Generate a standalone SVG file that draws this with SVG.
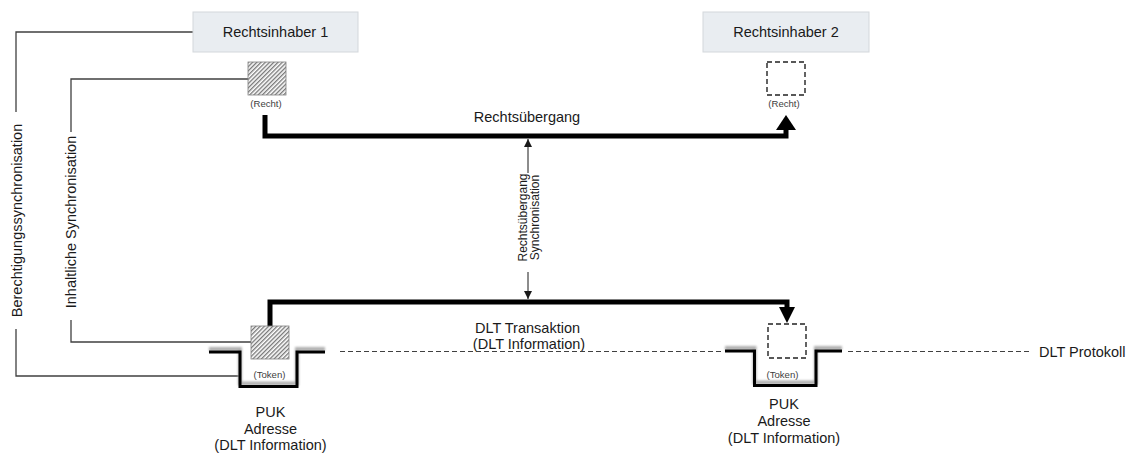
<svg xmlns="http://www.w3.org/2000/svg" width="1131" height="454" viewBox="0 0 1131 454">
<style>
text{font-family:"Liberation Sans",Arial,sans-serif;fill:#1a1a1a}
.lbl{font-size:14.5px}
.sm{font-size:9.6px;fill:#404040}
.sync{font-size:12px}
.brk{fill:none;stroke:#404040;stroke-width:1.3}
.thick{fill:none;stroke:#000;stroke-width:5;stroke-linejoin:miter}
.pit{fill:none;stroke:#000;stroke-width:3}
.pitglow{fill:none;stroke:#b0b0b0;stroke-width:4;filter:url(#blur)}
.box{fill:#e9edf1;stroke:#d3d7db;stroke-width:1}
.hatch{fill:url(#hatch);stroke:#808080;stroke-width:0.8}
.dsq{fill:#fff;stroke:#222;stroke-width:1.4;stroke-dasharray:5 3}
.dash{fill:none;stroke:#404040;stroke-width:1.2;stroke-dasharray:5 3}
.thin{fill:none;stroke:#1a1a1a;stroke-width:1}
</style>
<defs>
<pattern id="hatch" width="3" height="3" patternUnits="userSpaceOnUse" patternTransform="rotate(45)">
<rect width="3" height="3" fill="#fff"/>
<line x1="0.75" y1="0" x2="0.75" y2="3" stroke="#4a4a4a" stroke-width="1"/>
</pattern>
<filter id="blur" x="-10%" y="-30%" width="120%" height="160%"><feGaussianBlur stdDeviation="1.2"/></filter>
<marker id="sa" viewBox="0 0 8 8" refX="8" refY="4" markerWidth="8" markerHeight="8" markerUnits="userSpaceOnUse" orient="auto"><path d="M0,0 L8,4 L0,8 Z" fill="#1a1a1a"/></marker>
</defs>

<g id="connectors">
  <!-- outer bracket: Berechtigungssynchronisation -->
  <path class="brk" d="M193,32 H16 V112"/>
  <path class="brk" d="M16,329 V376 H239"/>
  <text class="lbl" transform="translate(22,220.5) rotate(-90)" text-anchor="middle">Berechtigungssynchronisation</text>
  <!-- inner bracket: Inhaltliche Synchronisation -->
  <path class="brk" d="M248,79 H71 V132"/>
  <path class="brk" d="M71,320 V342 H251"/>
  <text class="lbl" transform="translate(76,222) rotate(-90)" text-anchor="middle">Inhaltliche Synchronisation</text>

  <!-- Rechtsübergang -->
  <path class="thick" d="M265,115 V136 H786 V129"/>
  <path d="M776,130 L786,115 L796,130 Z" fill="#000"/>
  <text class="lbl" x="527" y="122" text-anchor="middle">Rechtsübergang</text>

  <!-- DLT Transaktion -->
  <path class="thick" d="M270,327 V302 H787 V308"/>
  <path d="M779,307 L795,307 L787,323 Z" fill="#000"/>
  <text class="lbl" x="527.5" y="332.5" text-anchor="middle">DLT Transaktion</text>
  <text class="lbl" x="529" y="349" text-anchor="middle">(DLT Information)</text>

  <!-- sync arrows -->
  <line class="thin" x1="528" y1="173" x2="528" y2="139" marker-end="url(#sa)"/>
  <line class="thin" x1="528" y1="272" x2="528" y2="299" marker-end="url(#sa)"/>
  <text class="sync" transform="translate(527,217.5) rotate(-90)" text-anchor="middle"><tspan x="0" y="0">Rechtsübergang</tspan><tspan x="0" y="12">Synchronisation</tspan></text>

  <!-- DLT Protokoll dashed -->
  <line class="dash" x1="340" y1="351.5" x2="722" y2="351.5"/>
  <line class="dash" x1="848" y1="351.5" x2="1031" y2="351.5"/>
  <text class="lbl" x="1039" y="356.5">DLT Protokoll</text>
</g>

<g id="rechtsinhaber1">
  <rect class="box" x="193" y="12" width="165" height="40"/>
  <text class="lbl" x="275.5" y="37.3" text-anchor="middle">Rechtsinhaber 1</text>
</g>
<g id="rechtsinhaber2">
  <rect class="box" x="703" y="12" width="166" height="40"/>
  <text class="lbl" x="786" y="37.3" text-anchor="middle">Rechtsinhaber 2</text>
</g>

<g id="recht1">
  <rect class="hatch" x="248" y="62" width="38" height="33"/>
  <text class="sm" x="266" y="107" text-anchor="middle">(Recht)</text>
</g>
<g id="recht2">
  <rect class="dsq" x="767" y="62" width="38" height="33"/>
  <text class="sm" x="784" y="107" text-anchor="middle">(Recht)</text>
</g>

<g id="puk1">
  <path class="pitglow" d="M209,349 H240 V383.5 H297 V349 H325"/>
  <path class="pit" d="M209,352 H240 V386.5 H297 V352 H325"/>
  <rect class="hatch" x="251" y="326" width="38" height="33"/>
  <text class="sm" x="269.5" y="378" text-anchor="middle">(Token)</text>
  <text class="lbl" x="270.5" y="417.3" text-anchor="middle">PUK</text>
  <text class="lbl" x="270.5" y="433.6" text-anchor="middle">Adresse</text>
  <text class="lbl" x="270.5" y="450" text-anchor="middle">(DLT Information)</text>
</g>

<g id="puk2">
  <path class="pitglow" d="M725,348 H754.5 V382.5 H816 V348 H842"/>
  <path class="pit" d="M725,351 H754.5 V385.5 H816 V351 H842"/>
  <rect class="dsq" x="768" y="324" width="38" height="34"/>
  <text class="sm" x="782.5" y="378" text-anchor="middle">(Token)</text>
  <text class="lbl" x="784" y="409.3" text-anchor="middle">PUK</text>
  <text class="lbl" x="784" y="426.3" text-anchor="middle">Adresse</text>
  <text class="lbl" x="784" y="443.3" text-anchor="middle">(DLT Information)</text>
</g>
</svg>
